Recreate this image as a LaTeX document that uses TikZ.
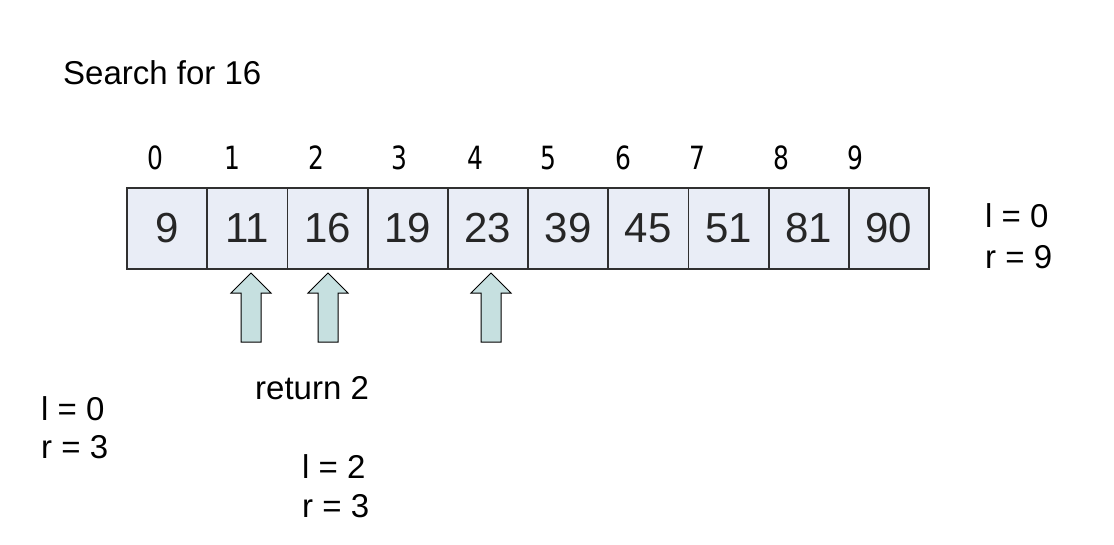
\documentclass[tikz,border=0pt]{standalone}
\usepackage{fontspec}
\setmainfont{Liberation Sans}
\newfontfamily\idxfont[FakeStretch=0.78]{DejaVu Sans}
\definecolor{cellfill}{HTML}{E9EDF6}
\definecolor{cellline}{HTML}{303030}
\definecolor{arrowfill}{HTML}{C6E0E0}
\begin{document}
\begin{tikzpicture}[x=1pt,y=-1pt,
  cell/.style={draw=cellline,line width=1.8pt,fill=cellfill,minimum width=80.2pt,minimum height=81pt,inner sep=0pt,outer sep=0pt,text=black!85,font=\fontsize{42}{46}\selectfont},
  idx/.style={inner sep=0pt,font=\idxfont\fontsize{32}{36}\selectfont},
  lbl/.style={inner sep=0pt,anchor=west,align=left,font=\fontsize{33}{40}\selectfont},
  blockarrow/.style={draw=black,line width=1pt,fill=arrowfill,line join=miter}]
\useasboundingbox (0,0) rectangle (1114,544);
% title
\node[lbl,anchor=base west] (title) at (63,84) {Search for 16};
% cells
\foreach \v [count=\i from 0] in {9,11,16,19,23,39,45,51,81,90}{
  \node[cell] (c\i) at ({127+80.2*\i+40.1},228.5) {\v};
}
% indices
\foreach \x [count=\i from 0] in {155,232,316,399,475,548,623,697,781,855}{
  \node[idx] (i\i) at (\x,158) {\i};
}
% block arrows
\foreach \x in {251,328,491}{
  \draw[blockarrow] (\x,273) -- (\x+20,293) -- (\x+10,293) -- (\x+10,342) -- (\x-10,342) -- (\x-10,293) -- (\x-20,293) -- cycle;
}
% labels
\node[lbl,anchor=base west] (lr1a) at (985,227) {l = 0};
\node[lbl,anchor=base west] (lr1b) at (985,268) {r = 9};
\node[lbl,anchor=base west] (lr2a) at (41,420) {l = 0};
\node[lbl,anchor=base west] (lr2b) at (41,458) {r = 3};
\node[lbl,anchor=base west] (ret) at (255,399) {return 2};
\node[lbl,anchor=base west] (lr3a) at (302,478) {l = 2};
\node[lbl,anchor=base west] (lr3b) at (302,517) {r = 3};
\end{tikzpicture}
\end{document}
